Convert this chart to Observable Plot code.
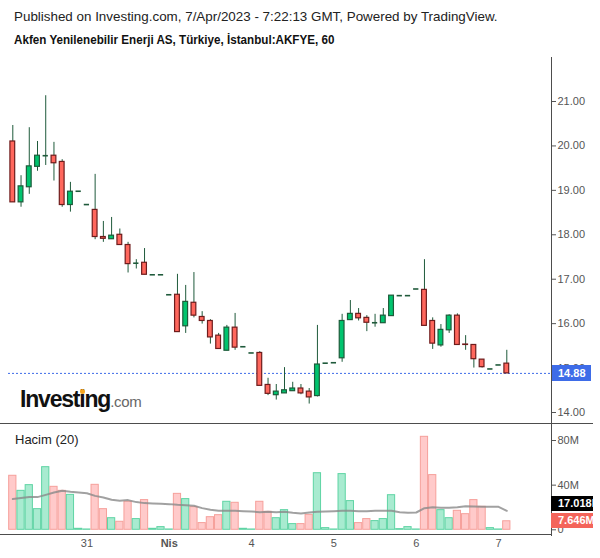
<!DOCTYPE html>
<html>
<head>
<meta charset="utf-8">
<script src="https://cdn.jsdelivr.net/npm/d3@7"></script>
<script src="https://cdn.jsdelivr.net/npm/@observablehq/plot@0.6"></script>
<style>
  body { margin: 0; background: #fff; }
  #wrap { position: relative; width: 600px; height: 558px; overflow: hidden; font-family: "Liberation Sans", Arial, sans-serif; background: #fff; }
  .abs { position: absolute; }
  .hl { position: absolute; background: #4d4d4d; }
  .lbl { position: absolute; color: #fff; font-weight: bold; font-size: 11px; line-height: 15px; overflow: hidden; white-space: nowrap; box-sizing: border-box; }
</style>
</head>
<body>
<div id="wrap">
  <div class="abs" style="left:14px;top:9px;font-size:13.4px;color:#222;white-space:nowrap">Published on Investing.com, 7/Apr/2023 - 7:22:13 GMT, Powered by TradingView.</div>
  <div class="abs" style="left:14px;top:32px;font-size:13.4px;font-weight:bold;color:#111;white-space:nowrap;transform:scaleX(0.87);transform-origin:0 0">Akfen Yenilenebilir Enerji AS, Türkiye, İstanbul:AKFYE, 60</div>
  <div id="price" class="abs" style="left:0;top:55px"></div>
  <div id="vol" class="abs" style="left:0;top:423px"></div>
  <div class="hl" style="left:551px;top:57px;width:1px;height:479px"></div>
  <div class="hl" style="left:0;top:423px;width:593px;height:1px"></div>
  <div class="hl" style="left:0;top:534px;width:551px;height:1px"></div>
  <div class="abs" style="left:15px;top:432px;font-size:13px;color:#222">Hacim (20)</div>
  <div class="abs" style="left:20px;top:386px;white-space:nowrap">
    <span style="font-size:23px;font-weight:bold;letter-spacing:-1.2px;color:#111">Investing</span><span style="font-size:15px;color:#666;letter-spacing:-0.3px">.com</span>
  </div>
  <div class="abs" style="left:80px;top:389px;width:5px;height:5px;border-radius:50%;background:#f5a51f"></div>
  <div id="lastPrice" class="lbl" style="left:552px;top:365px;width:39px;height:16px;background:#3e6ce8;padding-left:6px;line-height:16px"></div>
  <div id="lastMA" class="lbl" style="left:551px;top:496px;width:42px;height:15px;background:#000;padding-left:7px"></div>
  <div id="lastVol" class="lbl" style="left:551px;top:513px;width:42px;height:15px;background:#f4645a;padding-left:7px"></div>
</div>
<script>
// ---- data (hourly candles, AKFYE) ----
const open  = [20.10,18.73,19.07,19.53,19.78,19.78,19.64,18.67,18.98,18.68,
               18.56,17.95,17.90,18.00,17.77,17.36,17.37,17.10,17.10,16.65,
               16.65,15.94,16.47,16.15,16.06,15.73,15.39,15.91,15.48,15.34,
               15.34,14.62,14.39,14.43,14.48,14.54,14.47,14.37,15.11,15.12,
               15.22,16.08,16.22,16.13,16.02,16.01,16.17,16.63,16.63,16.78,
               16.76,16.06,15.51,15.85,16.18,15.53,15.52,15.19,14.98,15.07,
               15.10];
const high  = [20.46,19.33,20.41,20.10,21.13,20.08,19.69,19.18,18.98,18.68,
               19.36,18.30,18.39,18.13,17.83,17.44,17.69,17.10,17.10,16.65,
               17.11,16.86,17.15,16.27,16.09,15.78,15.96,16.23,15.48,15.34,
               15.37,14.77,14.63,15.01,14.68,14.63,14.54,15.96,15.11,15.12,
               16.21,16.52,16.34,16.18,16.21,16.34,16.63,16.63,16.63,16.78,
               17.44,16.13,15.98,16.20,16.22,15.73,15.52,15.19,14.98,15.07,
               15.40];
const low   = [18.73,18.62,18.91,19.43,19.56,19.21,18.62,18.51,18.98,18.68,
               17.89,17.83,17.90,17.77,17.14,17.23,17.10,17.10,17.10,16.65,
               15.81,15.78,16.13,15.99,15.54,15.43,15.39,15.40,15.48,15.34,
               14.60,14.38,14.28,14.43,14.48,14.40,14.19,14.35,15.11,15.12,
               15.13,16.08,16.06,15.82,15.92,16.01,16.17,16.63,16.63,16.78,
               15.95,15.42,15.47,15.78,15.52,15.40,15.00,15.00,14.98,15.07,
               14.88];
const close = [18.73,19.09,19.54,19.78,19.78,19.61,18.67,18.97,18.98,18.68,
               17.95,17.91,17.98,17.77,17.34,17.36,17.10,17.10,17.10,16.65,
               15.81,16.49,16.18,16.06,15.69,15.43,15.91,15.46,15.48,15.34,
               14.60,14.42,14.47,14.50,14.54,14.43,14.34,15.08,15.11,15.12,
               16.06,16.22,16.12,16.02,16.02,16.18,16.63,16.63,16.63,16.78,
               15.95,15.55,15.86,16.18,15.52,15.52,15.20,15.02,14.98,15.07,
               14.88];
// volume in millions of shares
const volume = [48.4,34.9,40.0,18.5,56.1,38.5,34.9,31.3,0.9,0.3,
                40.3,18.5,10.4,7.2,25.1,9.6,26.6,0.9,2.4,0.3,
                32.2,27.5,20.3,6.0,11.3,13.1,25.1,24.2,0.9,0.3,
                25.1,16.1,10.4,17.6,5.1,5.1,13.4,50.7,1.5,0.3,
                49.9,25.7,6.0,9.6,7.8,9.6,31.0,0.6,2.4,0.3,
                83.3,49.0,17.6,10.4,17.0,14.0,26.6,20.6,1.5,0.3,
                7.646];
const volumeUp = [0,1,1,1,1,0,0,1,1,1, 0,0,1,0,0,1,0,1,1,1,
                  0,1,0,0,0,0,1,0,1,1, 0,0,1,1,1,0,0,1,1,1,
                  1,1,0,0,1,1,1,1,1,1, 0,0,1,1,0,0,0,0,1,1, 0];
// volume moving average (20), millions
const volumeMA = [27.5,28.4,29.3,29.3,31.3,33.4,34.9,34.0,33.4,32.8,
                  30.4,29.0,26.9,26.0,26.6,24.8,23.9,23.6,23.3,23.0,
                  22.4,22.1,21.5,19.4,17.9,17.0,17.0,17.0,16.7,16.4,
                  15.8,16.1,15.8,16.1,15.2,14.6,15.5,16.1,16.4,16.7,
                  17.0,17.0,16.7,16.7,17.0,17.0,17.0,15.8,15.2,15.5,
                  19.4,20.3,19.7,19.7,20.3,21.2,20.9,20.6,20.6,20.6,
                  17.018];
const priceTicks = [14,15,16,17,18,19,20,21];
const volumeTicks = [0,40,80];
const dayTickIndex = [9,19,29,39,49,59];
const dayTickLabels = ["31","Nis","4","5","6","7"];
const monthLabels = ["Nis"];

// ---- tables ----
const rows = open.map((o,i) => ({i, o, h: high[i], l: low[i], c: close[i]}));
const bodies = rows.filter(d => d.o !== d.c);
const flats = rows.filter(d => d.o === d.c);
const vrows = volume.map((v,i) => ({i, v, up: volumeUp[i] === 1, ma: volumeMA[i]}));
const ticks = dayTickIndex.map((i,k) => ({i, label: dayTickLabels[k], bold: monthLabels.includes(dayTickLabels[k])}));

const GREEN = "#00c46e", RED = "#ff675d", GREEN_DK = "#1d5b3a", RED_DK = "#6e1c1c", WICK = "#1f5a3b";
const XR = [12.3, 506.3];

const price = Plot.plot({
  width: 600, height: 368,
  marginTop: 0, marginBottom: 0, marginLeft: 8, marginRight: 49,
  style: {color: "#555", fontFamily: "'Liberation Sans', Arial, sans-serif", fontSize: "11px", background: "transparent"},
  x: {domain: [0, rows.length - 1], range: XR, axis: null},
  y: {domain: [14, 21], range: [357, 46]},
  marks: [
    Plot.ruleY([close[close.length - 1]], {stroke: "#3e6ce8", strokeDasharray: "2,2", strokeWidth: 1}),
    Plot.ruleX(rows, {x: "i", y1: "l", y2: "h", stroke: WICK, strokeWidth: 1}),
    Plot.rect(bodies, {x1: d => d.i - 0.29, x2: d => d.i + 0.29, y1: "o", y2: "c",
      fill: d => d.c > d.o ? GREEN : RED, stroke: d => d.c > d.o ? GREEN_DK : RED_DK, strokeWidth: 1.2}),
    Plot.ruleY(flats, {y: "c", x1: d => d.i - 0.32, x2: d => d.i + 0.32, stroke: WICK, strokeWidth: 1.6}),
    Plot.axisY({anchor: "right", ticks: priceTicks, tickFormat: d => d.toFixed(2), tickSize: 4, tickPadding: 2, label: null, stroke: "#555", fill: "#555"})
  ]
});
document.getElementById("price").appendChild(price);

const vol = Plot.plot({
  width: 600, height: 135,
  marginTop: 0, marginBottom: 0, marginLeft: 0, marginRight: 49,
  style: {color: "#555", fontFamily: "'Liberation Sans', Arial, sans-serif", fontSize: "11px", background: "transparent"},
  x: {domain: [0, rows.length - 1], range: XR, axis: null},
  y: {domain: [0, 80], range: [106.3, 17]},
  marks: [
    Plot.rect(vrows, {x1: d => d.i - 0.5, x2: d => d.i + 0.5, y1: 0, y2: "v", insetLeft: 0.5, insetRight: 0.5,
      fill: d => d.up ? "#a8ebd0" : "#ffcaca", stroke: d => d.up ? "#5fd4a4" : "#f6a09b", strokeWidth: 1}),
    Plot.line(vrows, {x: "i", y: "ma", stroke: "#8a8a8a", strokeWidth: 2, strokeOpacity: 0.8}),
    Plot.axisY({anchor: "right", ticks: volumeTicks, tickFormat: d => d === 0 ? "0" : d + "M", tickSize: 4, tickPadding: 2, label: null, stroke: "#555", fill: "#555"}),
    Plot.text(ticks.filter(d => !d.bold), {x: "i", text: "label", frameAnchor: "bottom", dy: -12, fill: "#555", fontSize: 11}),
    Plot.text(ticks.filter(d => d.bold), {x: "i", text: "label", frameAnchor: "bottom", dy: -12, fill: "#555", fontSize: 11, fontWeight: "bold"})
  ]
});
document.getElementById("vol").appendChild(vol);

document.getElementById("lastPrice").textContent = close[close.length - 1].toFixed(2);
document.getElementById("lastMA").textContent = volumeMA[volumeMA.length - 1].toFixed(3) + "M";
document.getElementById("lastVol").textContent = volume[volume.length - 1].toFixed(3) + "M";
</script>
</body>
</html>
